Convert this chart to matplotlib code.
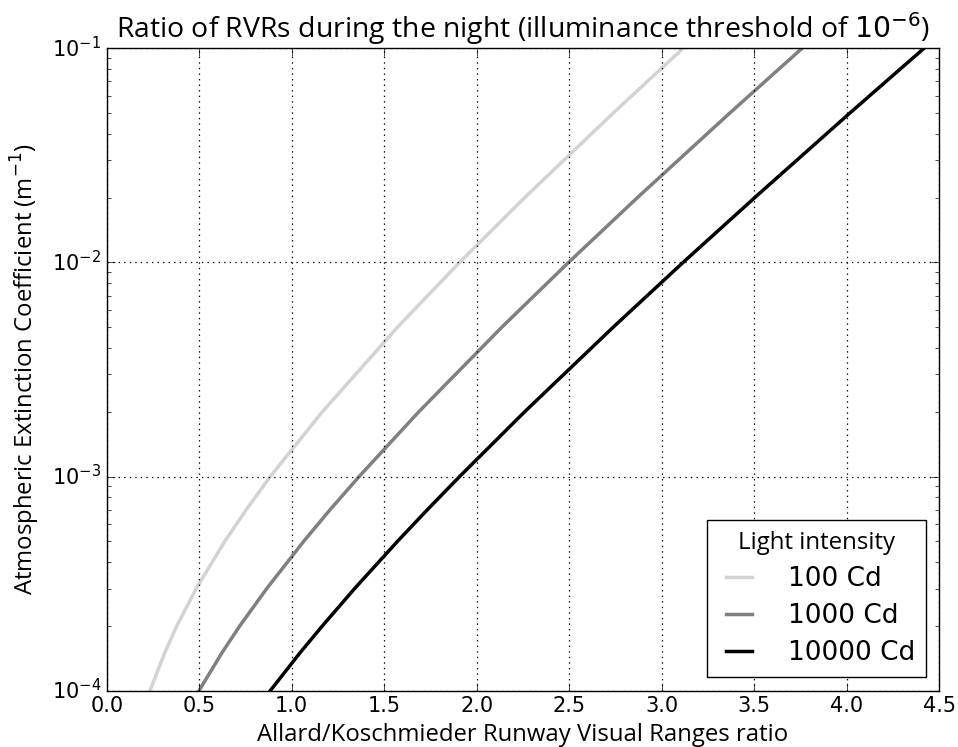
## Ratio of Allard / Koschmieder RVRs at night

import numpy as np
import matplotlib
matplotlib.use('Agg')
import matplotlib.pyplot as plt

# extinction coefficient (m^-1) and RVR ratio for each light intensity
sigma = [1e-4, 1.5e-4, 2e-4, 3e-4, 5e-4, 7e-4, 1e-3, 2e-3, 5e-3, 1e-2, 2e-2, 5e-2, 1e-1]
ratio_100 = [0.234, 0.313, 0.378, 0.484, 0.639, 0.754, 0.884, 1.164, 1.573, 1.907, 2.257, 2.739, 3.115]
ratio_1000 = [0.499, 0.622, 0.718, 0.865, 1.066, 1.207, 1.364, 1.685, 2.137, 2.496, 2.866, 3.369, 3.758]
ratio_10000 = [0.884, 1.044, 1.164, 1.340, 1.573, 1.733, 1.907, 2.257, 2.739, 3.115, 3.500, 4.018, 4.417]

labels = ['100 Cd', '1000 Cd', '10000 Cd']
colors = ['lightgray', 'gray', 'black']

plt.style.use('classic')
plt.rcParams['font.family'] = ['DejaVu Sans']
plt.rcParams['mathtext.fontset'] = 'dejavusans'
plt.rcParams['font.size'] = 15
plt.rcParams['figure.facecolor'] = 'white'

txt_font = ['Open Sans', 'DejaVu Sans']

fig = plt.figure(figsize=(9.58, 7.47), dpi=100)
ax = fig.add_axes([0.1114, 0.0754, 0.8691, 0.8599])

for r, lab, col in zip([ratio_100, ratio_1000, ratio_10000], labels, colors):
    ax.plot(r, sigma, color=col, lw=2.5, label=lab)

ax.set_yscale('log')
ax.set_xlim(0, 4.5)
ax.set_ylim(1e-4, 1e-1)
ax.set_xticks(np.arange(0, 4.51, 0.5))
ax.grid(True, which='major', linestyle=':', color='k', lw=0.9)
ax.tick_params(which='major', length=6)
ax.tick_params(which='minor', length=3)
ax.tick_params(axis='both', labelsize=15)

ax.set_xlabel('Allard/Koschmieder Runway Visual Ranges ratio', family=txt_font, fontsize=17.2)
ax.set_ylabel('Atmospheric Extinction Coefficient (m$^{-1}$)', family=txt_font, fontsize=17.2)
ax.yaxis.set_label_coords(-0.078, 0.5)
ax.set_title('Ratio of RVRs during the night (illuminance threshold of $10^{-6}$)',
             family=txt_font, fontsize=20.4, y=1.005)

leg = ax.legend(loc='lower right', title='Light intensity', numpoints=2, fancybox=False,
                prop={'family': 'DejaVu Sans', 'size': 19}, handlelength=1.6,
                handletextpad=1.05, labelspacing=0.42, borderpad=0.42)
leg.get_title().set_fontfamily(txt_font)
leg.get_title().set_fontsize(17.3)

plt.savefig('out.png', dpi=100)
